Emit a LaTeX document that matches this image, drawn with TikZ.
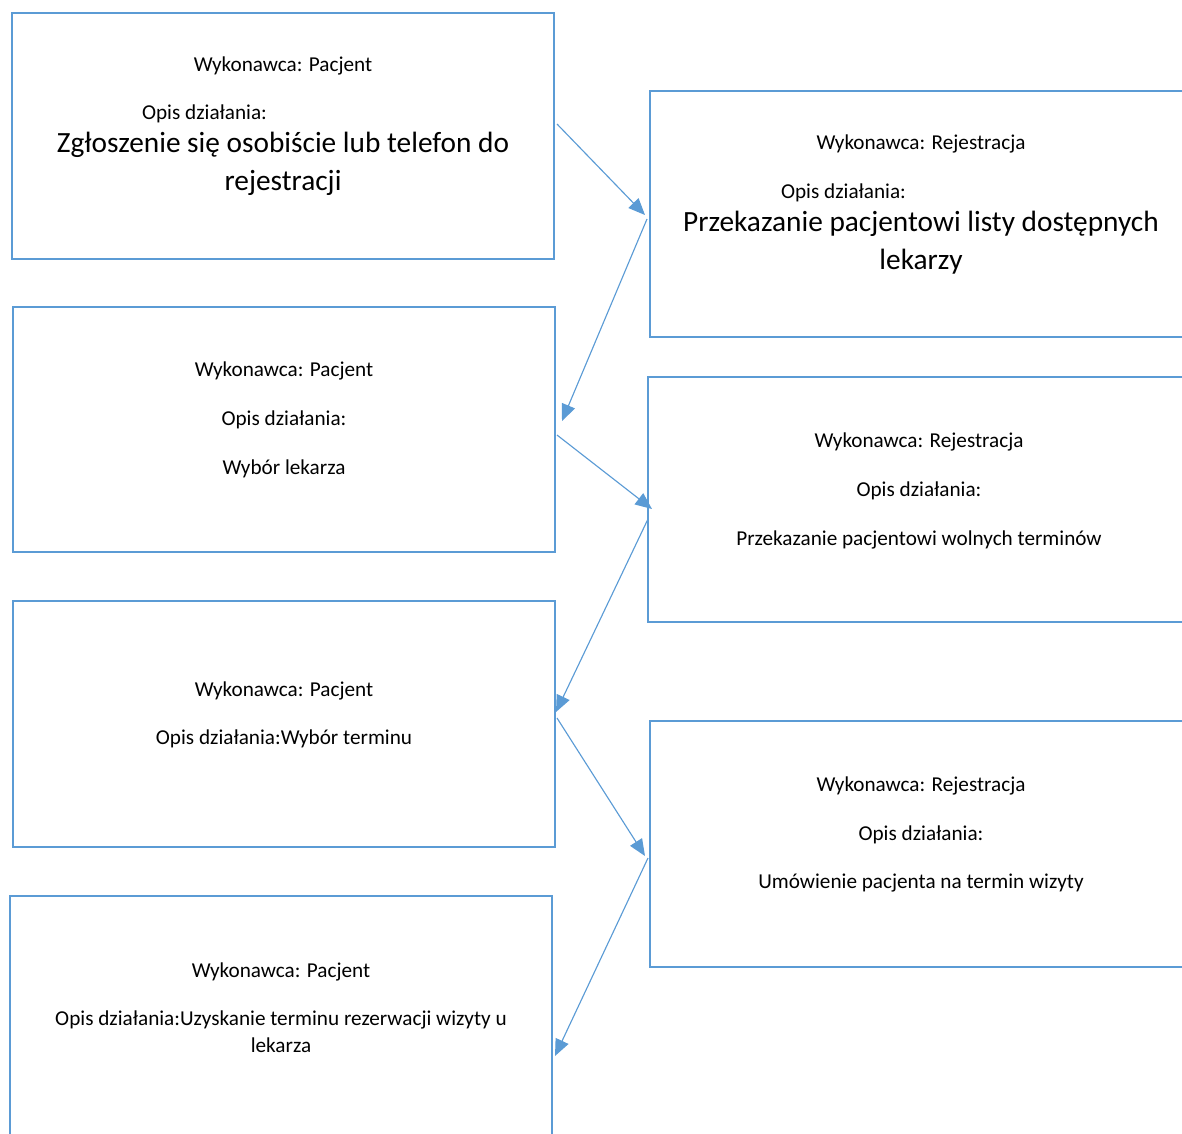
\documentclass[tikz,border=0pt]{standalone}
\usepackage{fontspec}
\setmainfont{Carlito}
\usetikzlibrary{arrows.meta}
\definecolor{flowblue}{HTML}{5B9BD5}
\tikzset{
  stepbox/.style={draw=flowblue, line width=1.6pt, inner sep=0pt, outer sep=0pt, fill=none},
  small/.style={anchor=base, inner sep=0pt, font=\fontsize{15.9pt}{19.4pt}\selectfont},
  large/.style={anchor=base, inner sep=0pt, font=\fontsize{22pt}{28pt}\selectfont},
  flow/.style={draw=flowblue, line width=0.85pt, -{Triangle[length=12.5pt,width=10.5pt]}}
}
\begin{document}
\begin{tikzpicture}[x=0.75pt,y=-0.75pt]
\useasboundingbox (0,0) rectangle (1182,1133);
\clip (0,0) rectangle (1182,1133);

% left column: Pacjent
\node[stepbox, minimum width=542*0.75pt, minimum height=246*0.75pt] (p1) at (283,136) {};
\node[stepbox, minimum width=542*0.75pt, minimum height=245*0.75pt] (p2) at (284,429.5) {};
\node[stepbox, minimum width=542*0.75pt, minimum height=246*0.75pt] (p3) at (284,724) {};
\node[stepbox, minimum width=542*0.75pt, minimum height=246*0.75pt] (p4) at (281,1019) {};

% right column: Rejestracja (running past the right edge)
\node[stepbox, minimum width=545*0.75pt, minimum height=246*0.75pt] (r1) at (922.5,214) {};
\node[stepbox, minimum width=545*0.75pt, minimum height=245*0.75pt] (r2) at (920.5,499.5) {};
\node[stepbox, minimum width=545*0.75pt, minimum height=246*0.75pt] (r3) at (922.5,844) {};

% texts of the steps
\node[small] (p1a) at (283,71.5) {Wykonawca: Pacjent};
\node[small] (p1b) at (204.5,119.5) {Opis działania:};
\node[large] (p1c) at (283,152) {Zgłoszenie się osobiście lub telefon do};
\node[large] (p1d) at (283,190) {rejestracji};

\node[small] (r1a) at (921,149.5) {Wykonawca: Rejestracja};
\node[small] (r1b) at (843.5,198) {Opis działania:};
\node[large] (r1c) at (921,231.5) {Przekazanie pacjentowi listy dostępnych};
\node[large] (r1d) at (921,269.5) {lekarzy};

\node[small] (p2a) at (284,376.5) {Wykonawca: Pacjent};
\node[small] (p2b) at (284,425.5) {Opis działania:};
\node[small] (p2c) at (284,474.5) {Wybór lekarza};

\node[small] (r2a) at (919,447.5) {Wykonawca: Rejestracja};
\node[small] (r2b) at (919,496.5) {Opis działania:};
\node[small] (r2c) at (919,545.5) {Przekazanie pacjentowi wolnych terminów};

\node[small] (p3a) at (284,696.5) {Wykonawca: Pacjent};
\node[small] (p3b) at (284,744.5) {Opis działania:Wybór terminu};

\node[small] (r3a) at (921,791.5) {Wykonawca: Rejestracja};
\node[small] (r3b) at (921,840.5) {Opis działania:};
\node[small] (r3c) at (921,888.5) {Umówienie pacjenta na termin wizyty};

\node[small] (p4a) at (281,977.5) {Wykonawca: Pacjent};
\node[small] (p4b) at (281,1025.5) {Opis działania:Uzyskanie terminu rezerwacji wizyty u};
\node[small] (p4c) at (281,1052.5) {lekarza};

% connector end points next to the box borders
\coordinate (s1) at (557,124);  \coordinate (e1) at (645,215);
\coordinate (s2) at (647,219);  \coordinate (e2) at (562,421);
\coordinate (s3) at (557,435);  \coordinate (e3) at (652,509);
\coordinate (s4) at (648,519);  \coordinate (e4) at (556,712);
\coordinate (s5) at (557,718);  \coordinate (e5) at (645,856);
\coordinate (s6) at (648,858);  \coordinate (e6) at (555,1056);

\draw[flow] (s1) -- (e1);
\draw[flow] (s2) -- (e2);
\draw[flow] (s3) -- (e3);
\draw[flow] (s4) -- (e4);
\draw[flow] (s5) -- (e5);
\draw[flow] (s6) -- (e6);
\end{tikzpicture}
\end{document}
